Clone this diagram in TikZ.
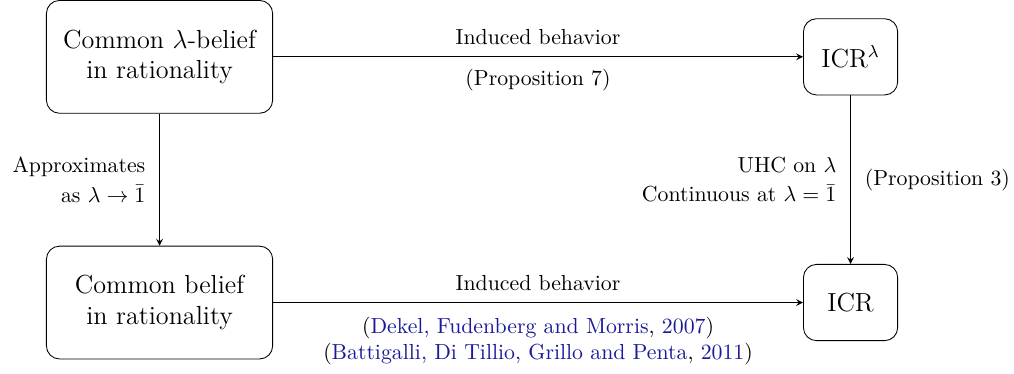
\documentclass[tikz,border=0pt]{standalone}
\usepackage{amsmath}
\usetikzlibrary{positioning}
\definecolor{citeblue}{rgb}{0.1,0.1,0.6}
\tikzset{
  concept/.style={draw, rounded corners=6pt, align=center, font=\large, minimum width=3.65cm, minimum height=1.82cm},
  outcome/.style={draw, rounded corners=6pt, font=\large, minimum width=1.52cm, minimum height=1.23cm},
}
\newcommand{\citeref}[2]{(\textcolor{citeblue}{#1}, \textcolor{citeblue}{#2})}

\begin{document}
\begin{tikzpicture}[auto, node distance=2.13cm and 8.55cm, >=stealth]
    \node[concept] (lambda_belief) {Common $\lambda$-belief\\in rationality};
    \node[outcome] (icr_lambda) [right = of lambda_belief] {ICR$^\lambda$};
    \node[concept] (belief) [below = of lambda_belief] {Common belief\\in rationality};
    \node[outcome] (icr) [right = of belief] {ICR};

    \path[use as bounding box] ([xshift=-0.742cm]lambda_belief.north west) rectangle ++(16.36,-6.02);

    \draw[->] (lambda_belief) -- node[above=2pt] {Induced behavior} node[below=2pt] {(Proposition 7)} (icr_lambda);
    \draw[->] (belief) -- node[above=2pt] {Induced behavior}
        node[below=3pt, align=center] {\citeref{Dekel, Fudenberg and Morris}{2007}\\\citeref{Battigalli, Di Tillio, Grillo and Penta}{2011}} (icr);
    \draw[->] (lambda_belief) -- node[left=3pt, align=right] {Approximates\\[1.5pt]as $\lambda\to\bar{1}$} (belief);
    \draw[->] (icr_lambda) -- node[left=3pt, align=right] {UHC on $\lambda$\\[1.5pt]Continuous at $\lambda=\bar{1}$} node[right=3pt] {(Proposition 3)} (icr);
\end{tikzpicture}
\end{document}
